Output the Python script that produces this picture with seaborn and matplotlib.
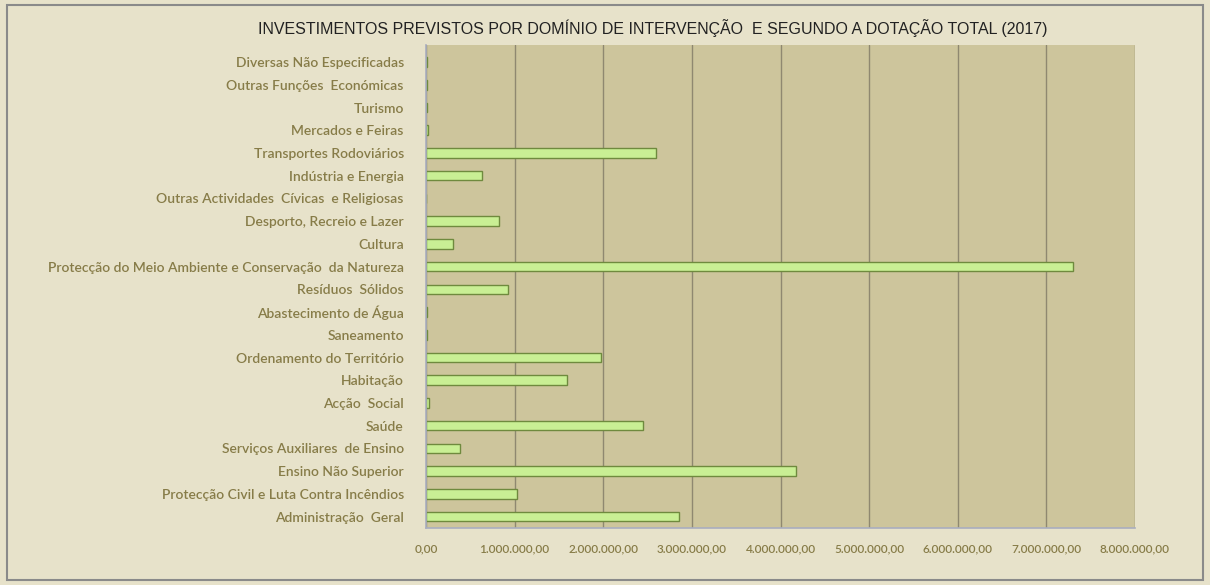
import matplotlib
matplotlib.use("Agg")
import matplotlib.pyplot as plt
import matplotlib.ticker as mticker
from matplotlib.patches import Rectangle
import numpy as np
import pandas as pd
import seaborn as sns

# dados (de cima para baixo)
dominios = [
    "Diversas Não Especificadas",
    "Outras Funções  Económicas",
    "Turismo",
    "Mercados e Feiras",
    "Transportes Rodoviários",
    "Indústria e Energia",
    "Outras Actividades  Cívicas  e Religiosas",
    "Desporto, Recreio e Lazer",
    "Cultura",
    "Protecção do Meio Ambiente e Conservação  da Natureza",
    "Resíduos  Sólidos",
    "Abastecimento de Água",
    "Saneamento",
    "Ordenamento do Território",
    "Habitação",
    "Acção  Social",
    "Saúde",
    "Serviços Auxiliares  de Ensino",
    "Ensino Não Superior",
    "Protecção Civil e Luta Contra Incêndios",
    "Administração  Geral",
]
dotacao = [
    8000, 6000, 8000, 25000, 2600000, 630000, 5000, 820000, 310000, 7300000,
    930000, 6000, 7000, 1980000, 1590000, 30000, 2450000, 380000, 4170000,
    1030000, 2860000,
]
xticks = [0, 1e6, 2e6, 3e6, 4e6, 5e6, 6e6, 7e6, 8e6]

df = pd.DataFrame({"dominio": dominios, "dotacao": dotacao})

sns.set_theme(style="white")
plt.rcParams["font.family"] = ["Lato", "DejaVu Sans"]

fig_bg = "#e7e2ca"
plot_bg = "#cdc59c"
txt = "#877c48"

fig = plt.figure(figsize=(12.1, 5.85), dpi=100)
fig.patch.set_facecolor(fig_bg)
fig.patches.append(Rectangle((7 / 1210, 5 / 585), 1196 / 1210, 575 / 585,
                             transform=fig.transFigure, fill=False,
                             edgecolor="#8a8a8a", linewidth=1.5))

ax = fig.add_axes([426 / 1210, 1 - 528 / 585, (1135 - 426) / 1210, (528 - 45) / 585])
ax.set_facecolor(plot_bg)

sns.barplot(data=df, x="dotacao", y="dominio", orient="h", ax=ax,
            color="#c9ef94", edgecolor="#6f8a3e", linewidth=1.0,
            width=0.42, saturation=1)

ax.set_xlim(0, 8e6)
ax.set_ylim(20.5, -0.75)
ax.set_xticks(xticks)
ax.xaxis.set_major_formatter(mticker.FuncFormatter(
    lambda v, p: f"{v:,.2f}".replace(",", "X").replace(".", ",").replace("X", ".")))
ax.grid(axis="x", color="#8f8870", linewidth=1.0)
ax.set_axisbelow(True)
ax.set_xlabel("")
ax.set_ylabel("")

for s in ["top", "right"]:
    ax.spines[s].set_visible(False)
for s in ["left", "bottom"]:
    ax.spines[s].set_color("#a9aebf")
    ax.spines[s].set_linewidth(1.2)

ax.tick_params(axis="y", length=0, pad=16, labelsize=10, labelcolor=txt)
ax.tick_params(axis="x", length=4, color="#a9aebf", pad=7, labelsize=8.5, labelcolor=txt)
ax.set_yticks(np.arange(-0.5, 21, 1), minor=True)
ax.tick_params(axis="y", which="minor", length=5, color="#8a8a8a", width=1)
for lab in ax.get_yticklabels() + ax.get_xticklabels():
    lab.set_fontweight("semibold")

fig.text(653 / 1210, 1 - 28 / 585,
         "INVESTIMENTOS PREVISTOS POR DOMÍNIO DE INTERVENÇÃO  E SEGUNDO A DOTAÇÃO TOTAL (2017)",
         ha="center", va="center", fontsize=11.5, color="#222222",
         family=["Liberation Sans", "DejaVu Sans"])

fig.savefig("out.png", dpi=100, facecolor=fig_bg)
